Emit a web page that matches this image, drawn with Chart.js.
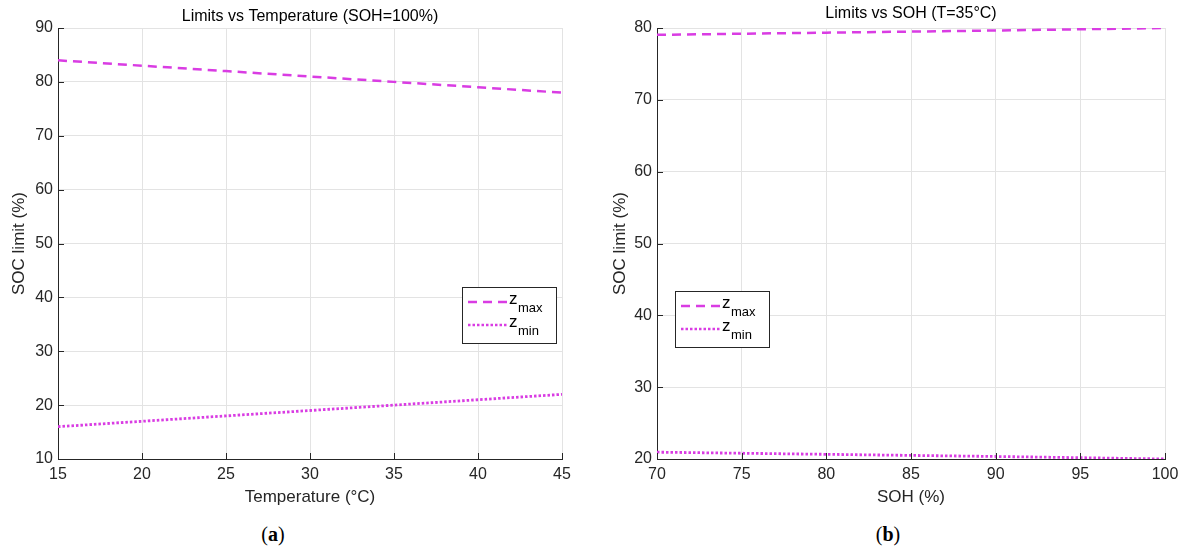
<!DOCTYPE html>
<html>
<head>
<meta charset="utf-8">
<script src="https://cdn.jsdelivr.net/npm/chart.js@4/dist/chart.umd.min.js"></script>
<style>
  body { margin: 0; background: #fff; width: 1188px; height: 552px; position: relative; overflow: hidden; }
  .box { position: absolute; top: 0; width: 594px; height: 520px; }
  .cap { position: absolute; top: 523px; font-family: "Liberation Serif", serif; font-size: 20px; color: #000; transform: translateX(-50%); }
</style>
</head>
<body>
<div class="box" style="left:0"><canvas id="chartA"></canvas></div>
<div class="box" style="left:594px"><canvas id="chartB"></canvas></div>
<div class="cap" style="left:273px">(<b>a</b>)</div>
<div class="cap" style="left:888px">(<b>b</b>)</div>
<script>
// panel (a): limits vs temperature, SOH = 100%
var tempC = [15, 20, 25, 30, 35, 40, 45];
var zmaxTemp = [84, 83, 82, 81, 80, 79, 78];
var zminTemp = [16, 17, 18, 19, 20, 21, 22];

// panel (b): limits vs SOH, T = 35 C
var sohPct = [70, 75, 80, 85, 90, 95, 100];
var zmaxSoh = [79.05, 79.2, 79.35, 79.5, 79.65, 79.82, 80];
var zminSoh = [20.95, 20.8, 20.65, 20.5, 20.35, 20.18, 20];

var lineColor = '#d93ce3';
var axisColor = '#262626';
var fontFam = '"Liberation Sans", Arial, sans-serif';
var dashMax = [9, 6];
var dashMin = [2.5, 2];

function pts(xs, ys) {
	return xs.map(function (x, i) { return { x: x, y: ys[i] }; });
}

var extras = {
	id: 'extras',
	afterDraw: function (chart) {
		var o = chart.options.plugins.extras;
		var ctx = chart.ctx;
		var xs = chart.scales.x, ys = chart.scales.y;
		var a = chart.chartArea;
		ctx.save();
		// inward tick marks
		ctx.strokeStyle = axisColor;
		ctx.lineWidth = 1;
		ctx.beginPath();
		xs.ticks.forEach(function (t) {
			var px = Math.round(xs.getPixelForValue(t.value)) + 0.5;
			ctx.moveTo(px, a.bottom);
			ctx.lineTo(px, a.bottom - 6);
		});
		ys.ticks.forEach(function (t) {
			var py = Math.round(ys.getPixelForValue(t.value)) + 0.5;
			ctx.moveTo(a.left, py);
			ctx.lineTo(a.left + 6, py);
		});
		ctx.stroke();
		// title
		ctx.fillStyle = '#000';
		ctx.font = '16px ' + fontFam;
		ctx.textAlign = 'center';
		ctx.textBaseline = 'middle';
		ctx.fillText(o.title, (a.left + a.right) / 2, o.titleY);
		// legend box
		var lx = o.legendX, ly = o.legendY, lw = 94, lh = 56;
		ctx.fillStyle = '#fff';
		ctx.fillRect(lx, ly, lw, lh);
		ctx.strokeStyle = axisColor;
		ctx.strokeRect(lx + 0.5, ly + 0.5, lw, lh);
		var rows = [
			{ dash: dashMax, sub: 'max', y: ly + 15 },
			{ dash: dashMin, sub: 'min', y: ly + 38 }
		];
		rows.forEach(function (r) {
			ctx.strokeStyle = lineColor;
			ctx.lineWidth = 2.5;
			ctx.setLineDash(r.dash);
			ctx.beginPath();
			ctx.moveTo(lx + 6, r.y);
			ctx.lineTo(lx + 46, r.y);
			ctx.stroke();
			ctx.setLineDash([]);
			ctx.fillStyle = '#000';
			ctx.textAlign = 'left';
			ctx.font = '17px ' + fontFam;
			ctx.fillText('z', lx + 47, r.y - 3);
			ctx.font = '13px ' + fontFam;
			ctx.fillText(r.sub, lx + 56, r.y + 6);
		});
		ctx.restore();
	}
};

function makeChart(id, xv, maxv, minv, xr, yr, xTitle, yAxisW, padRight, yTitlePad, extra) {
	return new Chart(document.getElementById(id), {
		type: 'line',
		data: {
			datasets: [
				{ label: 'zmax', data: pts(xv, maxv), borderColor: lineColor, borderWidth: 2.5, borderDash: dashMax, pointRadius: 0, fill: false },
				{ label: 'zmin', data: pts(xv, minv), borderColor: lineColor, borderWidth: 2.8, borderDash: dashMin, pointRadius: 0, fill: false }
			]
		},
		options: {
			responsive: true,
			maintainAspectRatio: false,
			animation: false,
			layout: { padding: { top: 28, right: padRight, left: 0, bottom: 0 } },
			plugins: { legend: { display: false }, tooltip: { enabled: false }, extras: extra },
			scales: {
				x: {
					type: 'linear', min: xr[0], max: xr[1],
					ticks: { stepSize: 5, color: axisColor, font: { family: fontFam, size: 16 }, padding: 6, maxRotation: 0 },
					grid: { color: '#e3e3e3', drawTicks: false },
					border: { color: axisColor },
					title: { display: true, text: xTitle, color: axisColor, font: { family: fontFam, size: 17 }, padding: { top: 2, bottom: 12 } },
					afterFit: function (s) { s.height = 61; }
				},
				y: {
					min: yr[0], max: yr[1],
					ticks: { stepSize: 10, color: axisColor, font: { family: fontFam, size: 16 }, padding: 5 },
					grid: { color: '#e3e3e3', drawTicks: false },
					border: { color: axisColor },
					title: { display: true, text: 'SOC limit (%)', color: axisColor, font: { family: fontFam, size: 17 }, padding: { top: yTitlePad, bottom: 8 } },
					afterFit: function (s) { s.width = yAxisW; }
				}
			}
		},
		plugins: [extras]
	});
}

makeChart('chartA', tempC, zmaxTemp, zminTemp, [15, 45], [10, 90], 'Temperature (°C)', 58, 32, 9,
	{ title: 'Limits vs Temperature (SOH=100%)', titleY: 17, legendX: 462, legendY: 287 });
makeChart('chartB', sohPct, zmaxSoh, zminSoh, [70, 100], [20, 80], 'SOH (%)', 63, 23, 16,
	{ title: 'Limits vs SOH (T=35°C)', titleY: 14, legendX: 81, legendY: 291 });
</script>
</body>
</html>
